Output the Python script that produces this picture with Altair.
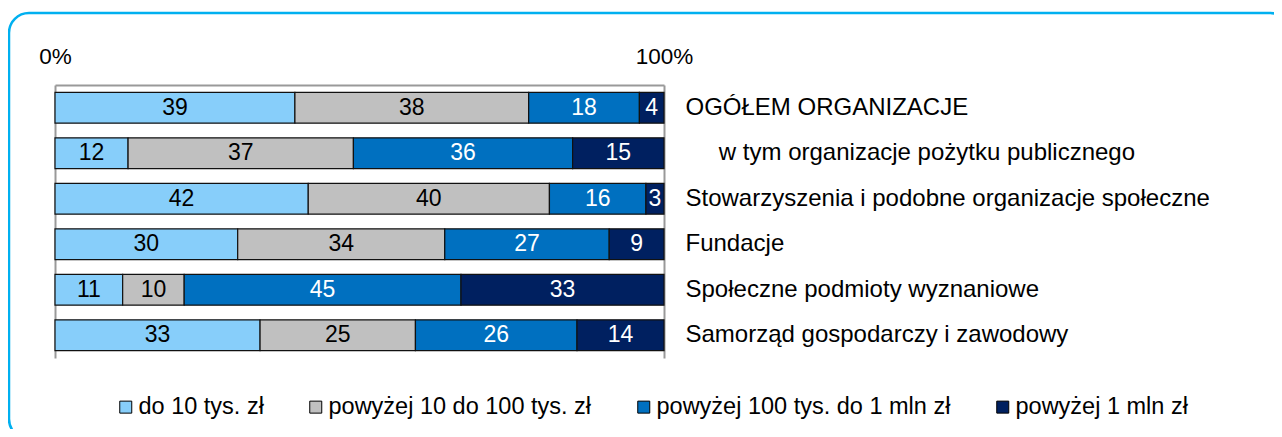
import altair as alt
import pandas as pd

categories = [
    "OGÓŁEM ORGANIZACJE",
    "\u200b\u00a0\u00a0\u00a0\u00a0\u00a0w tym organizacje pożytku publicznego",
    "Stowarzyszenia i podobne organizacje społeczne",
    "Fundacje",
    "Społeczne podmioty wyznaniowe",
    "Samorząd gospodarczy i zawodowy",
]
groups = [
    "do 10 tys. zł",
    "powyżej 10 do 100 tys. zł",
    "powyżej 100 tys. do 1 mln zł",
    "powyżej 1 mln zł",
]
values = [
    [39, 38, 18, 4],
    [12, 37, 36, 15],
    [42, 40, 16, 3],
    [30, 34, 27, 9],
    [11, 10, 45, 33],
    [33, 25, 26, 14],
]
colors = ["#87CEFA", "#C0C0C0", "#0070C0", "#002060"]

rows = []
for ci, cat in enumerate(categories):
    for gi, g in enumerate(groups):
        rows.append({"category": cat, "group": g, "order": gi, "value": values[ci][gi]})
df = pd.DataFrame(rows)

FONT = "Liberation Sans"

y_axis = alt.Axis(
    orient="right", title=None, ticks=False, domain=False, grid=False,
    labelFontSize=24, labelFont=FONT, labelColor="black", labelAlign="left",
    labelPadding=21, labelLimit=1000,
)
x_axis = alt.Axis(
    orient="top", title=None, values=[0, 1], format=".0%", ticks=False,
    domain=True, domainColor="#999999", domainWidth=2,
    grid=True, gridColor="#999999", gridWidth=2,
    labelFontSize=22.5, labelFont=FONT, labelColor="black", labelPadding=17,
    labelFlush=False,
)
y_scale = alt.Scale(paddingInner=0.32, paddingOuter=0.16)

bars = alt.Chart(df).mark_bar(stroke="#111111", strokeWidth=1.2).encode(
    x=alt.X("value:Q", stack="normalize", scale=alt.Scale(domain=[0, 1]), axis=x_axis),
    y=alt.Y("category:N", sort=categories, scale=y_scale, axis=y_axis),
    color=alt.Color(
        "group:N",
        sort=groups,
        scale=alt.Scale(domain=groups, range=colors),
        legend=alt.Legend(
            orient="none", legendX=59, legendY=310, direction="horizontal",
            title=None, symbolType="square", symbolSize=144, padding=0,
            symbolStrokeColor="black", symbolStrokeWidth=1, symbolOpacity=1,
            labelFontSize=23.5, labelFont=FONT, labelColor="black", labelOffset=1,
            columnPadding=40, labelLimit=1000,
        ),
    ),
    order=alt.Order("order:Q"),
)

labels = alt.Chart(df).transform_stack(
    stack="value", groupby=["category"], as_=["s", "e"], offset="normalize",
    sort=[alt.SortField("order")],
).transform_calculate(
    mid="(datum.s + datum.e) / 2",
    tc="datum.order >= 2 ? 'white' : 'black'",
).mark_text(fontSize=23, font=FONT, baseline="middle", align="center").encode(
    x=alt.X("mid:Q", scale=alt.Scale(domain=[0, 1]), axis=x_axis),
    y=alt.Y("category:N", sort=categories, scale=y_scale, axis=y_axis),
    text=alt.Text("value:Q"),
    color=alt.Color("tc:N", scale=None),
)

frame = alt.Chart(pd.DataFrame({"a": [0]})).mark_rect(
    filled=False, stroke="#00B0F0", strokeWidth=2.5, cornerRadius=20
).encode(
    x=alt.value(-46), x2=alt.value(1235), y=alt.value(-72), y2=alt.value(354)
)

chart = alt.layer(frame, bars, labels).properties(
    width=609, height=273,
    background="white",
    autosize=alt.AutoSizeParams(type="none"),
    padding={"left": 47, "top": 77, "right": 610, "bottom": 71},
).configure_view(stroke=None)

chart.save("out.html", embed_options={"renderer": "svg", "actions": False})
